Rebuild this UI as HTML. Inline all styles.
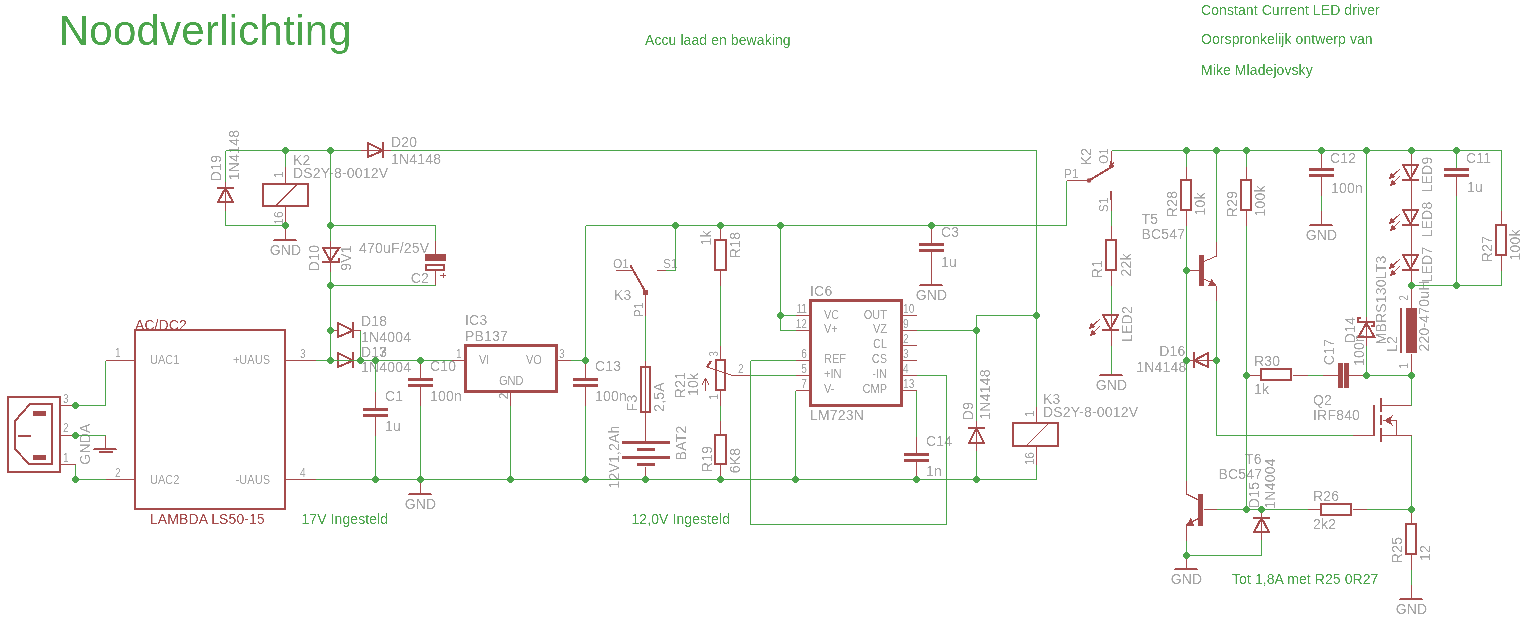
<!DOCTYPE html>
<html><head><meta charset="utf-8"><style>
html,body{margin:0;padding:0;background:#fff;width:1525px;height:621px;overflow:hidden}
svg{display:block}
text{font-family:"Liberation Sans",sans-serif}
path,line,rect{shape-rendering:crispEdges}
</style></head><body>
<svg width="1525" height="621" viewBox="0 0 1525 621">
<defs><filter id="al" x="0" y="0" width="1525" height="621" filterUnits="userSpaceOnUse"><feComponentTransfer><feFuncA type="table" tableValues="0 0 1 1"/></feComponentTransfer></filter></defs>
<g filter="url(#al)">
<text x="58.7" y="45" font-size="42" fill="#4ba54b" text-anchor="start" letter-spacing="0.25">Noodverlichting</text>
<text x="645" y="45" font-size="14" fill="#4ba54b" text-anchor="start" letter-spacing="0.08">Accu laad en bewaking</text>
<text x="1201" y="15" font-size="14" fill="#4ba54b" text-anchor="start" letter-spacing="0.08">Constant Current LED driver</text>
<text x="1201" y="44" font-size="14" fill="#4ba54b" text-anchor="start" letter-spacing="0.08">Oorspronkelijk ontwerp van</text>
<text x="1201" y="75" font-size="14" fill="#4ba54b" text-anchor="start" letter-spacing="0.08">Mike Mladejovsky</text>
<text x="301.5" y="524" font-size="14" fill="#4ba54b" text-anchor="start" letter-spacing="0.08">17V Ingesteld</text>
<text x="631.5" y="524" font-size="14" fill="#4ba54b" text-anchor="start" letter-spacing="0.08">12,0V Ingesteld</text>
<text x="1232" y="584" font-size="14" fill="#4ba54b" text-anchor="start" letter-spacing="0.08">Tot 1,8A met R25 0R27</text>
<text transform="translate(63 403) scale(0.85 1)" font-size="12" fill="#a5a5a5" text-anchor="start">3</text>
<text transform="translate(63 432) scale(0.85 1)" font-size="12" fill="#a5a5a5" text-anchor="start">2</text>
<text transform="translate(63 462) scale(0.85 1)" font-size="12" fill="#a5a5a5" text-anchor="start">1</text>
<text transform="translate(115 357) scale(0.85 1)" font-size="12" fill="#a5a5a5" text-anchor="start">1</text>
<text transform="translate(85 444) rotate(-90)" x="0" y="5.04" font-size="14" fill="#a5a5a5" text-anchor="middle" letter-spacing="0.2">GNDA</text>
<text transform="translate(115 477) scale(0.85 1)" font-size="12" fill="#a5a5a5" text-anchor="start">2</text>
<text x="135" y="330" font-size="14" fill="#a54b4b" text-anchor="start" letter-spacing="0.08">AC/DC2</text>
<text x="150" y="524" font-size="14" fill="#a54b4b" text-anchor="start" letter-spacing="0.08">LAMBDA LS50-15</text>
<text transform="translate(150 364) scale(0.92 1)" font-size="12" fill="#a5a5a5" text-anchor="start">UAC1</text>
<text transform="translate(150 484) scale(0.92 1)" font-size="12" fill="#a5a5a5" text-anchor="start">UAC2</text>
<text transform="translate(270 364) scale(0.92 1)" font-size="12" fill="#a5a5a5" text-anchor="end">+UAUS</text>
<text transform="translate(270 484) scale(0.92 1)" font-size="12" fill="#a5a5a5" text-anchor="end">-UAUS</text>
<text transform="translate(300 358) scale(0.85 1)" font-size="12" fill="#a5a5a5" text-anchor="start">3</text>
<text transform="translate(300 477) scale(0.85 1)" font-size="12" fill="#a5a5a5" text-anchor="start">4</text>
<text x="391" y="147" font-size="14" fill="#a5a5a5" text-anchor="start" letter-spacing="0.2">D20</text>
<text x="391" y="164" font-size="14" fill="#a5a5a5" text-anchor="start" letter-spacing="0.2">1N4148</text>
<text transform="translate(216 168) rotate(-90)" x="0" y="5.04" font-size="14" fill="#a5a5a5" text-anchor="middle" letter-spacing="0.2">D19</text>
<text transform="translate(234 155) rotate(-90)" x="0" y="5.04" font-size="14" fill="#a5a5a5" text-anchor="middle" letter-spacing="0.2">1N4148</text>
<text x="285.5" y="255" font-size="14" fill="#a5a5a5" text-anchor="middle" letter-spacing="0.2">GND</text>
<text x="293" y="165" font-size="14" fill="#a5a5a5" text-anchor="start" letter-spacing="0.2">K2</text>
<text x="293" y="178" font-size="14" fill="#a5a5a5" text-anchor="start" letter-spacing="0.2">DS2Y-8-0012V</text>
<text transform="translate(279 175) rotate(-90)" x="0" y="4.32" font-size="12" fill="#a5a5a5" text-anchor="middle">1</text>
<text transform="translate(279 218) rotate(-90)" x="0" y="4.32" font-size="12" fill="#a5a5a5" text-anchor="middle">16</text>
<text transform="translate(314 258) rotate(-90)" x="0" y="5.04" font-size="14" fill="#a5a5a5" text-anchor="middle" letter-spacing="0.2">D10</text>
<text transform="translate(346 258) rotate(-90)" x="0" y="5.04" font-size="14" fill="#a5a5a5" text-anchor="middle" letter-spacing="0.2">9V1</text>
<text x="359" y="253" font-size="14" fill="#a5a5a5" text-anchor="start" letter-spacing="0.2">470uF/25V</text>
<text x="429" y="283" font-size="14" fill="#a5a5a5" text-anchor="end" letter-spacing="0.2">C2</text>
<text x="361" y="326" font-size="14" fill="#a5a5a5" text-anchor="start" letter-spacing="0.2">D18</text>
<text x="361" y="342" font-size="14" fill="#a5a5a5" text-anchor="start" letter-spacing="0.2">1N4004</text>
<text x="361" y="357" font-size="14" fill="#a5a5a5" text-anchor="start" letter-spacing="0.2">D13</text>
<text x="378.9" y="357" font-size="14" fill="#a5a5a5" text-anchor="start" letter-spacing="0.2">7</text>
<text x="361" y="372" font-size="14" fill="#a5a5a5" text-anchor="start" letter-spacing="0.2">1N4004</text>
<text x="385" y="401" font-size="14" fill="#a5a5a5" text-anchor="start" letter-spacing="0.2">C1</text>
<text x="385" y="431" font-size="14" fill="#a5a5a5" text-anchor="start" letter-spacing="0.2">1u</text>
<text x="430" y="371" font-size="14" fill="#a5a5a5" text-anchor="start" letter-spacing="0.2">C10</text>
<text x="430" y="401" font-size="14" fill="#a5a5a5" text-anchor="start" letter-spacing="0.2">100n</text>
<text x="420.5" y="509" font-size="14" fill="#a5a5a5" text-anchor="middle" letter-spacing="0.2">GND</text>
<text transform="translate(456 358) scale(0.85 1)" font-size="12" fill="#a5a5a5" text-anchor="start">1</text>
<text x="465" y="325" font-size="14" fill="#a5a5a5" text-anchor="start" letter-spacing="0.2">IC3</text>
<text x="465" y="341" font-size="14" fill="#a5a5a5" text-anchor="start" letter-spacing="0.2">PB137</text>
<text transform="translate(479 364) scale(0.92 1)" font-size="12" fill="#a5a5a5" text-anchor="start">VI</text>
<text transform="translate(526 364) scale(0.92 1)" font-size="12" fill="#a5a5a5" text-anchor="start">VO</text>
<text transform="translate(499 385) scale(0.92 1)" font-size="12" fill="#a5a5a5" text-anchor="start">GND</text>
<text transform="translate(559 358) scale(0.85 1)" font-size="12" fill="#a5a5a5" text-anchor="start">3</text>
<text transform="translate(503.5 396) rotate(-90)" x="0" y="4.32" font-size="12" fill="#a5a5a5" text-anchor="middle">2</text>
<text x="595" y="371" font-size="14" fill="#a5a5a5" text-anchor="start" letter-spacing="0.2">C13</text>
<text x="595" y="401" font-size="14" fill="#a5a5a5" text-anchor="start" letter-spacing="0.2">100n</text>
<text x="613" y="268" font-size="12" fill="#a5a5a5" text-anchor="start">O1</text>
<text x="663" y="268" font-size="12" fill="#a5a5a5" text-anchor="start">S1</text>
<text x="614" y="300" font-size="14" fill="#a5a5a5" text-anchor="start" letter-spacing="0.2">K3</text>
<text transform="translate(638.5 310) rotate(-90)" x="0" y="4.32" font-size="12" fill="#a5a5a5" text-anchor="middle">P1</text>
<text transform="translate(632 403) rotate(-90)" x="0" y="5.04" font-size="14" fill="#a5a5a5" text-anchor="middle" letter-spacing="0.2">F3</text>
<text transform="translate(658.5 397) rotate(-90)" x="0" y="5.04" font-size="14" fill="#a5a5a5" text-anchor="middle" letter-spacing="0.2">2,5A</text>
<text transform="translate(614 457) rotate(-90)" x="0" y="5.04" font-size="14" fill="#a5a5a5" text-anchor="middle" letter-spacing="0.2">12V1,2Ah</text>
<text transform="translate(681 443) rotate(-90)" x="0" y="5.04" font-size="14" fill="#a5a5a5" text-anchor="middle" letter-spacing="0.2">BAT2</text>
<text transform="translate(706 238) rotate(-90)" x="0" y="5.04" font-size="14" fill="#a5a5a5" text-anchor="middle" letter-spacing="0.2">1k</text>
<text transform="translate(735 245) rotate(-90)" x="0" y="5.04" font-size="14" fill="#a5a5a5" text-anchor="middle" letter-spacing="0.2">R18</text>
<text transform="translate(713.5 354) rotate(-90) scale(0.85 1)" x="0" y="4.32" font-size="12" fill="#a5a5a5" text-anchor="middle">3</text>
<text transform="translate(713.5 397) rotate(-90) scale(0.85 1)" x="0" y="4.32" font-size="12" fill="#a5a5a5" text-anchor="middle">1</text>
<text transform="translate(680 385) rotate(-90)" x="0" y="5.04" font-size="14" fill="#a5a5a5" text-anchor="middle" letter-spacing="0.2">R21</text>
<text transform="translate(693 384.5) rotate(-90)" x="0" y="5.04" font-size="14" fill="#a5a5a5" text-anchor="middle" letter-spacing="0.2">10k</text>
<text transform="translate(707 459) rotate(-90)" x="0" y="5.04" font-size="14" fill="#a5a5a5" text-anchor="middle" letter-spacing="0.2">R19</text>
<text transform="translate(735 460.5) rotate(-90)" x="0" y="5.04" font-size="14" fill="#a5a5a5" text-anchor="middle" letter-spacing="0.2">6K8</text>
<text transform="translate(738 373) scale(0.85 1)" font-size="12" fill="#a5a5a5" text-anchor="start">2</text>
<text transform="translate(807 313) scale(0.85 1)" font-size="12" fill="#a5a5a5" text-anchor="end">11</text>
<text transform="translate(807 328) scale(0.85 1)" font-size="12" fill="#a5a5a5" text-anchor="end">12</text>
<text transform="translate(807 358) scale(0.85 1)" font-size="12" fill="#a5a5a5" text-anchor="end">6</text>
<text transform="translate(807 373) scale(0.85 1)" font-size="12" fill="#a5a5a5" text-anchor="end">5</text>
<text transform="translate(807 388) scale(0.85 1)" font-size="12" fill="#a5a5a5" text-anchor="end">7</text>
<text transform="translate(903 313) scale(0.85 1)" font-size="12" fill="#a5a5a5" text-anchor="start">10</text>
<text transform="translate(903 328) scale(0.85 1)" font-size="12" fill="#a5a5a5" text-anchor="start">9</text>
<text transform="translate(903 343) scale(0.85 1)" font-size="12" fill="#a5a5a5" text-anchor="start">2</text>
<text transform="translate(903 358) scale(0.85 1)" font-size="12" fill="#a5a5a5" text-anchor="start">3</text>
<text transform="translate(903 373) scale(0.85 1)" font-size="12" fill="#a5a5a5" text-anchor="start">4</text>
<text transform="translate(903 388) scale(0.85 1)" font-size="12" fill="#a5a5a5" text-anchor="start">13</text>
<text transform="translate(824 319) scale(0.92 1)" font-size="12" fill="#a5a5a5" text-anchor="start">VC</text>
<text transform="translate(824 333) scale(0.92 1)" font-size="12" fill="#a5a5a5" text-anchor="start">V+</text>
<text transform="translate(824 363) scale(0.92 1)" font-size="12" fill="#a5a5a5" text-anchor="start">REF</text>
<text transform="translate(824 378) scale(0.92 1)" font-size="12" fill="#a5a5a5" text-anchor="start">+IN</text>
<text transform="translate(824 393) scale(0.92 1)" font-size="12" fill="#a5a5a5" text-anchor="start">V-</text>
<text transform="translate(887 319) scale(0.92 1)" font-size="12" fill="#a5a5a5" text-anchor="end">OUT</text>
<text transform="translate(887 333) scale(0.92 1)" font-size="12" fill="#a5a5a5" text-anchor="end">VZ</text>
<text transform="translate(887 348) scale(0.92 1)" font-size="12" fill="#a5a5a5" text-anchor="end">CL</text>
<text transform="translate(887 363) scale(0.92 1)" font-size="12" fill="#a5a5a5" text-anchor="end">CS</text>
<text transform="translate(887 378) scale(0.92 1)" font-size="12" fill="#a5a5a5" text-anchor="end">-IN</text>
<text transform="translate(887 393) scale(0.92 1)" font-size="12" fill="#a5a5a5" text-anchor="end">CMP</text>
<text x="810" y="420" font-size="14" fill="#a5a5a5" text-anchor="start" letter-spacing="0.2">LM723N</text>
<text x="810" y="296" font-size="14" fill="#a5a5a5" text-anchor="start" letter-spacing="0.2">IC6</text>
<text x="926" y="446" font-size="14" fill="#a5a5a5" text-anchor="start" letter-spacing="0.2">C14</text>
<text x="926" y="476" font-size="14" fill="#a5a5a5" text-anchor="start" letter-spacing="0.2">1n</text>
<text x="931.5" y="300" font-size="14" fill="#a5a5a5" text-anchor="middle" letter-spacing="0.2">GND</text>
<text x="941" y="237" font-size="14" fill="#a5a5a5" text-anchor="start" letter-spacing="0.2">C3</text>
<text x="941" y="267" font-size="14" fill="#a5a5a5" text-anchor="start" letter-spacing="0.2">1u</text>
<text transform="translate(968 411) rotate(-90)" x="0" y="5.04" font-size="14" fill="#a5a5a5" text-anchor="middle" letter-spacing="0.2">D9</text>
<text transform="translate(984.5 394.5) rotate(-90)" x="0" y="5.04" font-size="14" fill="#a5a5a5" text-anchor="middle" letter-spacing="0.2">1N4148</text>
<text x="1043" y="404" font-size="14" fill="#a5a5a5" text-anchor="start" letter-spacing="0.2">K3</text>
<text x="1043" y="417" font-size="14" fill="#a5a5a5" text-anchor="start" letter-spacing="0.2">DS2Y-8-0012V</text>
<text transform="translate(1029.5 414) rotate(-90)" x="0" y="4.32" font-size="12" fill="#a5a5a5" text-anchor="middle">1</text>
<text transform="translate(1029.5 458.7) rotate(-90)" x="0" y="4.32" font-size="12" fill="#a5a5a5" text-anchor="middle">16</text>
<text x="1064" y="178" font-size="12" fill="#a5a5a5" text-anchor="start">P1</text>
<text transform="translate(1086 156.5) rotate(-90)" x="0" y="5.04" font-size="14" fill="#a5a5a5" text-anchor="middle" letter-spacing="0.2">K2</text>
<text transform="translate(1104 156) rotate(-90)" x="0" y="4.32" font-size="12" fill="#a5a5a5" text-anchor="middle">O1</text>
<text transform="translate(1104 205) rotate(-90)" x="0" y="4.32" font-size="12" fill="#a5a5a5" text-anchor="middle">S1</text>
<text transform="translate(1097 269) rotate(-90)" x="0" y="5.04" font-size="14" fill="#a5a5a5" text-anchor="middle" letter-spacing="0.2">R1</text>
<text transform="translate(1125.5 265) rotate(-90)" x="0" y="5.04" font-size="14" fill="#a5a5a5" text-anchor="middle" letter-spacing="0.2">22k</text>
<text x="1111.5" y="390" font-size="14" fill="#a5a5a5" text-anchor="middle" letter-spacing="0.2">GND</text>
<text transform="translate(1127 324) rotate(-90)" x="0" y="5.04" font-size="14" fill="#a5a5a5" text-anchor="middle" letter-spacing="0.2">LED2</text>
<text transform="translate(1172 204) rotate(-90)" x="0" y="5.04" font-size="14" fill="#a5a5a5" text-anchor="middle" letter-spacing="0.2">R28</text>
<text transform="translate(1200 204) rotate(-90)" x="0" y="5.04" font-size="14" fill="#a5a5a5" text-anchor="middle" letter-spacing="0.2">10k</text>
<text transform="translate(1232 204) rotate(-90)" x="0" y="5.04" font-size="14" fill="#a5a5a5" text-anchor="middle" letter-spacing="0.2">R29</text>
<text transform="translate(1260 201) rotate(-90)" x="0" y="5.04" font-size="14" fill="#a5a5a5" text-anchor="middle" letter-spacing="0.2">100k</text>
<text x="1141.5" y="224" font-size="14" fill="#a5a5a5" text-anchor="start" letter-spacing="0.2">T5</text>
<text x="1141.5" y="239" font-size="14" fill="#a5a5a5" text-anchor="start" letter-spacing="0.2">BC547</text>
<text x="1185.5" y="356" font-size="14" fill="#a5a5a5" text-anchor="end" letter-spacing="0.2">D16</text>
<text x="1186.5" y="372" font-size="14" fill="#a5a5a5" text-anchor="end" letter-spacing="0.2">1N4148</text>
<text x="1254" y="366" font-size="14" fill="#a5a5a5" text-anchor="start" letter-spacing="0.2">R30</text>
<text x="1254" y="394" font-size="14" fill="#a5a5a5" text-anchor="start" letter-spacing="0.2">1k</text>
<text transform="translate(1329 352) rotate(-90)" x="0" y="5.04" font-size="14" fill="#a5a5a5" text-anchor="middle" letter-spacing="0.2">C17</text>
<text transform="translate(1359 350) rotate(-90)" x="0" y="5.04" font-size="14" fill="#a5a5a5" text-anchor="middle" letter-spacing="0.2">100n</text>
<text transform="translate(1350 330) rotate(-90)" x="0" y="5.04" font-size="14" fill="#a5a5a5" text-anchor="middle" letter-spacing="0.2">D14</text>
<text transform="translate(1381 300) rotate(-90)" x="0" y="5.04" font-size="14" fill="#a5a5a5" text-anchor="middle" letter-spacing="0.2">MBRS130LT3</text>
<text transform="translate(1392 344) rotate(-90)" x="0" y="5.04" font-size="14" fill="#a5a5a5" text-anchor="middle" letter-spacing="0.2">L2</text>
<text transform="translate(1424 316) rotate(-90)" x="0" y="5.04" font-size="14" fill="#a5a5a5" text-anchor="middle" letter-spacing="0.2">220-470uH</text>
<text transform="translate(1404 298) rotate(-90) scale(0.85 1)" x="0" y="4.32" font-size="12" fill="#a5a5a5" text-anchor="middle">2</text>
<text transform="translate(1404 366) rotate(-90) scale(0.85 1)" x="0" y="4.32" font-size="12" fill="#a5a5a5" text-anchor="middle">1</text>
<text transform="translate(1427 174.5) rotate(-90)" x="0" y="5.04" font-size="14" fill="#a5a5a5" text-anchor="middle" letter-spacing="0.2">LED9</text>
<text transform="translate(1427 219.5) rotate(-90)" x="0" y="5.04" font-size="14" fill="#a5a5a5" text-anchor="middle" letter-spacing="0.2">LED8</text>
<text transform="translate(1427 264.5) rotate(-90)" x="0" y="5.04" font-size="14" fill="#a5a5a5" text-anchor="middle" letter-spacing="0.2">LED7</text>
<text transform="translate(1487 249) rotate(-90)" x="0" y="5.04" font-size="14" fill="#a5a5a5" text-anchor="middle" letter-spacing="0.2">R27</text>
<text transform="translate(1515 245) rotate(-90)" x="0" y="5.04" font-size="14" fill="#a5a5a5" text-anchor="middle" letter-spacing="0.2">100k</text>
<text x="1321.5" y="240" font-size="14" fill="#a5a5a5" text-anchor="middle" letter-spacing="0.2">GND</text>
<text x="1330" y="163" font-size="14" fill="#a5a5a5" text-anchor="start" letter-spacing="0.2">C12</text>
<text x="1331" y="193" font-size="14" fill="#a5a5a5" text-anchor="start" letter-spacing="0.2">100n</text>
<text x="1466" y="163" font-size="14" fill="#a5a5a5" text-anchor="start" letter-spacing="0.2">C11</text>
<text x="1467" y="192" font-size="14" fill="#a5a5a5" text-anchor="start" letter-spacing="0.2">1u</text>
<text x="1313" y="405" font-size="14" fill="#a5a5a5" text-anchor="start" letter-spacing="0.2">Q2</text>
<text x="1313" y="420" font-size="14" fill="#a5a5a5" text-anchor="start" letter-spacing="0.2">IRF840</text>
<text x="1186.5" y="584" font-size="14" fill="#a5a5a5" text-anchor="middle" letter-spacing="0.2">GND</text>
<text x="1245" y="464" font-size="14" fill="#a5a5a5" text-anchor="start" letter-spacing="0.2">T6</text>
<text x="1218.5" y="479" font-size="14" fill="#a5a5a5" text-anchor="start" letter-spacing="0.2">BC547</text>
<text transform="translate(1254 495) rotate(-90)" x="0" y="5.04" font-size="14" fill="#a5a5a5" text-anchor="middle" letter-spacing="0.2">D15</text>
<text transform="translate(1269.5 483.5) rotate(-90)" x="0" y="5.04" font-size="14" fill="#a5a5a5" text-anchor="middle" letter-spacing="0.2">1N4004</text>
<text x="1313" y="501" font-size="14" fill="#a5a5a5" text-anchor="start" letter-spacing="0.2">R26</text>
<text x="1313" y="529" font-size="14" fill="#a5a5a5" text-anchor="start" letter-spacing="0.2">2k2</text>
<text x="1411.5" y="614" font-size="14" fill="#a5a5a5" text-anchor="middle" letter-spacing="0.2">GND</text>
<text transform="translate(1397 550) rotate(-90)" x="0" y="5.04" font-size="14" fill="#a5a5a5" text-anchor="middle" letter-spacing="0.2">R25</text>
<text transform="translate(1425 553) rotate(-90)" x="0" y="5.04" font-size="14" fill="#a5a5a5" text-anchor="middle" letter-spacing="0.2">12</text>
</g>
<rect x="8.0" y="397.0" width="52" height="75" stroke="#a54b4b" stroke-width="2" fill="none"/>
<path d="M30.0 404.0 L52.0 404.0 L52.0 464.0 L29.0 464.0 L15.0 449.0 L15.0 421.0 L30.0 404.0" stroke="#a54b4b" stroke-width="2" fill="none" stroke-linecap="square"/>
<rect x="33" y="411" width="13" height="5" fill="#a54b4b"/>
<rect x="33" y="455" width="13" height="5" fill="#a54b4b"/>
<rect x="18" y="435" width="13" height="2" fill="#a54b4b"/>
<path d="M60.5 405.5 L75.5 405.5" stroke="#a54b4b" stroke-width="1" fill="none"/>
<path d="M60.5 435.5 L75.5 435.5" stroke="#a54b4b" stroke-width="1" fill="none"/>
<path d="M60.5 464.5 L75.5 464.5" stroke="#a54b4b" stroke-width="1" fill="none"/>
<path d="M75.5 405.5 L105.5 405.5 L105.5 360.5" stroke="#4ba54b" stroke-width="1" fill="none"/>
<path d="M105.5 360.5 L135.5 360.5" stroke="#a54b4b" stroke-width="1" fill="none"/>
<path d="M75.5 435.5 L105.5 435.5" stroke="#4ba54b" stroke-width="1" fill="none"/>
<path d="M105.5 435.5 L105.5 449.5" stroke="#a54b4b" stroke-width="1" fill="none"/>
<rect x="94" y="448" width="22" height="1" fill="#a54b4b"/>
<rect x="93" y="449" width="24" height="1" fill="#a54b4b"/>
<rect x="99" y="451" width="14" height="2" fill="#a54b4b"/>
<path d="M75.5 464.5 L75.5 479.5 L105.5 479.5" stroke="#4ba54b" stroke-width="1" fill="none"/>
<path d="M105.5 479.5 L135.5 479.5" stroke="#a54b4b" stroke-width="1" fill="none"/>
<rect x="135.0" y="330.0" width="150" height="179" stroke="#a54b4b" stroke-width="2" fill="none"/>
<path d="M285.5 360.5 L315.5 360.5" stroke="#a54b4b" stroke-width="1" fill="none"/>
<path d="M315.5 360.5 L330.5 360.5" stroke="#4ba54b" stroke-width="1" fill="none"/>
<path d="M285.5 479.5 L315.5 479.5" stroke="#a54b4b" stroke-width="1" fill="none"/>
<path d="M315.5 479.5 L1036.5 479.5 L1036.5 464.5" stroke="#4ba54b" stroke-width="1" fill="none"/>
<path d="M1036.5 464.5 L1036.5 446.5" stroke="#a54b4b" stroke-width="1" fill="none"/>
<path d="M225.5 150.5 L360.5 150.5" stroke="#4ba54b" stroke-width="1" fill="none"/>
<path d="M360.5 150.5 L390.5 150.5" stroke="#a54b4b" stroke-width="1" fill="none"/>
<path d="M368 143 L368 157 L383 150.5 Z" stroke="#a54b4b" stroke-width="2" fill="none"/>
<rect x="382" y="142" width="2" height="16" fill="#a54b4b"/>
<path d="M390.5 150.5 L1036.5 150.5 L1036.5 406.5" stroke="#4ba54b" stroke-width="1" fill="none"/>
<path d="M1036.5 406.5 L1036.5 423.5" stroke="#a54b4b" stroke-width="1" fill="none"/>
<path d="M225.5 150.5 L225.5 181.5" stroke="#4ba54b" stroke-width="1" fill="none"/>
<path d="M225.5 181.5 L225.5 210.5" stroke="#a54b4b" stroke-width="1" fill="none"/>
<path d="M225.5 188 L218 202 L233 202 Z" stroke="#a54b4b" stroke-width="2" fill="none"/>
<rect x="217" y="187" width="17" height="2" fill="#a54b4b"/>
<path d="M225.5 210.5 L225.5 225.5 L285.5 225.5" stroke="#4ba54b" stroke-width="1" fill="none"/>
<path d="M285.5 150.5 L285.5 166.5" stroke="#4ba54b" stroke-width="1" fill="none"/>
<path d="M285.5 166.5 L285.5 184.5" stroke="#a54b4b" stroke-width="1" fill="none"/>
<rect x="263.0" y="184.0" width="45" height="22" stroke="#a54b4b" stroke-width="2" fill="none"/>
<line x1="276" y1="205.5" x2="297" y2="184.5" stroke="#a54b4b" stroke-width="1"/>
<path d="M285.5 206.5 L285.5 240.5" stroke="#a54b4b" stroke-width="1" fill="none"/>
<rect x="274" y="239" width="22" height="1" fill="#a54b4b"/>
<rect x="273" y="240" width="24" height="1" fill="#a54b4b"/>
<path d="M330.5 150.5 L330.5 240.5" stroke="#4ba54b" stroke-width="1" fill="none"/>
<path d="M330.5 240.5 L330.5 271.5" stroke="#a54b4b" stroke-width="1" fill="none"/>
<path d="M323 248 L339 248 L330.5 261 Z" stroke="#a54b4b" stroke-width="2" fill="none"/>
<rect x="322" y="261" width="18" height="2" fill="#a54b4b"/>
<rect x="338" y="258" width="2" height="5" fill="#a54b4b"/>
<path d="M330.5 271.5 L330.5 360.5" stroke="#4ba54b" stroke-width="1" fill="none"/>
<path d="M330.5 225.5 L435.5 225.5 L435.5 240.5" stroke="#4ba54b" stroke-width="1" fill="none"/>
<path d="M435.5 240.5 L435.5 255.5" stroke="#a54b4b" stroke-width="1" fill="none"/>
<rect x="425" y="254" width="21" height="7" fill="#a54b4b"/>
<rect x="426.0" y="265.0" width="18" height="5" stroke="#a54b4b" stroke-width="2" fill="none"/>
<path d="M435.5 270.5 L435.5 285.5" stroke="#a54b4b" stroke-width="1" fill="none"/>
<path d="M435.5 285.5 L330.5 285.5" stroke="#4ba54b" stroke-width="1" fill="none"/>
<rect x="440" y="275" width="6" height="1" fill="#a54b4b"/>
<rect x="442.5" y="273" width="1.0" height="5" fill="#a54b4b"/>
<path d="M330.5 330.5 L338.5 330.5" stroke="#a54b4b" stroke-width="1" fill="none"/>
<path d="M338 323 L338 337 L353 330.5 Z" stroke="#a54b4b" stroke-width="2" fill="none"/>
<rect x="352" y="322" width="2" height="16" fill="#a54b4b"/>
<path d="M353.5 330.5 L360.5 330.5" stroke="#a54b4b" stroke-width="1" fill="none"/>
<path d="M360.5 330.5 L360.5 360.5" stroke="#4ba54b" stroke-width="1" fill="none"/>
<path d="M330.5 360.5 L338.5 360.5" stroke="#a54b4b" stroke-width="1" fill="none"/>
<path d="M338 353 L338 367 L353 360.5 Z" stroke="#a54b4b" stroke-width="2" fill="none"/>
<rect x="352" y="352" width="2" height="16" fill="#a54b4b"/>
<path d="M353.5 360.5 L360.5 360.5" stroke="#a54b4b" stroke-width="1" fill="none"/>
<path d="M331.5 360.5 L360.5 360.5" stroke="#4ba54b" stroke-width="1" fill="none"/>
<path d="M360.5 360.5 L451.5 360.5" stroke="#4ba54b" stroke-width="1" fill="none"/>
<path d="M451.5 360.5 L465.5 360.5" stroke="#a54b4b" stroke-width="1" fill="none"/>
<path d="M375.5 360.5 L375.5 391.5" stroke="#4ba54b" stroke-width="1" fill="none"/>
<path d="M375.5 391.5 L375.5 435.5" stroke="#a54b4b" stroke-width="1" fill="none"/>
<rect x="363" y="408" width="25" height="3" fill="#a54b4b"/>
<rect x="363" y="414" width="25" height="3" fill="#a54b4b"/>
<rect x="375" y="411" width="1" height="3" fill="#fff"/>
<path d="M375.5 435.5 L375.5 479.5" stroke="#4ba54b" stroke-width="1" fill="none"/>
<path d="M420.5 360.5 L420.5 405.5" stroke="#a54b4b" stroke-width="1" fill="none"/>
<rect x="408" y="378" width="25" height="3" fill="#a54b4b"/>
<rect x="408" y="384" width="25" height="3" fill="#a54b4b"/>
<rect x="420" y="381" width="1" height="3" fill="#fff"/>
<path d="M420.5 405.5 L420.5 479.5" stroke="#4ba54b" stroke-width="1" fill="none"/>
<path d="M420.5 479.5 L420.5 494.5" stroke="#a54b4b" stroke-width="1" fill="none"/>
<rect x="409" y="493" width="22" height="1" fill="#a54b4b"/>
<rect x="408" y="494" width="24" height="1" fill="#a54b4b"/>
<rect x="465.5" y="345.5" width="91" height="46" stroke="#a54b4b" stroke-width="3" fill="none"/>
<path d="M556.5 360.5 L570.5 360.5" stroke="#a54b4b" stroke-width="1" fill="none"/>
<path d="M570.5 360.5 L585.5 360.5" stroke="#4ba54b" stroke-width="1" fill="none"/>
<path d="M510.5 391.5 L510.5 405.5" stroke="#a54b4b" stroke-width="1" fill="none"/>
<path d="M510.5 405.5 L510.5 479.5" stroke="#4ba54b" stroke-width="1" fill="none"/>
<path d="M585.5 225.5 L585.5 360.5" stroke="#4ba54b" stroke-width="1" fill="none"/>
<path d="M585.5 360.5 L585.5 405.5" stroke="#a54b4b" stroke-width="1" fill="none"/>
<rect x="573" y="378" width="25" height="3" fill="#a54b4b"/>
<rect x="573" y="384" width="25" height="3" fill="#a54b4b"/>
<rect x="585" y="381" width="1" height="3" fill="#fff"/>
<path d="M585.5 405.5 L585.5 479.5" stroke="#4ba54b" stroke-width="1" fill="none"/>
<path d="M585.5 225.5 L1066.5 225.5 L1066.5 180.5" stroke="#4ba54b" stroke-width="1" fill="none"/>
<path d="M1066.5 180.5 L1089.5 180.5" stroke="#a54b4b" stroke-width="1" fill="none"/>
<path d="M675.5 225.5 L675.5 270.5 L665.5 270.5" stroke="#4ba54b" stroke-width="1" fill="none"/>
<path d="M665.5 270.5 L656.5 270.5" stroke="#a54b4b" stroke-width="1" fill="none"/>
<path d="M615.5 270.5 L633.5 270.5" stroke="#a54b4b" stroke-width="1" fill="none"/>
<line x1="630.5" y1="265.5" x2="645.5" y2="292" stroke="#a54b4b" stroke-width="2"/>
<rect x="643" y="290" width="5" height="5" fill="#a54b4b"/>
<path d="M645.5 292.5 L645.5 315.5" stroke="#a54b4b" stroke-width="1" fill="none"/>
<path d="M645.5 315.5 L645.5 360.5" stroke="#4ba54b" stroke-width="1" fill="none"/>
<path d="M645.5 360.5 L645.5 442.5" stroke="#a54b4b" stroke-width="1" fill="none"/>
<rect x="641.0" y="367.0" width="9" height="45" stroke="#a54b4b" stroke-width="2" fill="none"/>
<rect x="622" y="441" width="48" height="3" fill="#a54b4b"/>
<rect x="637" y="448" width="18" height="3" fill="#a54b4b"/>
<rect x="622" y="456" width="48" height="3" fill="#a54b4b"/>
<rect x="637" y="463" width="18" height="3" fill="#a54b4b"/>
<path d="M645.5 466.5 L645.5 479.5" stroke="#a54b4b" stroke-width="1" fill="none"/>
<path d="M720.5 225.5 L720.5 240.5" stroke="#a54b4b" stroke-width="1" fill="none"/>
<rect x="715.0" y="240.0" width="11" height="30" stroke="#a54b4b" stroke-width="2" fill="none"/>
<path d="M720.5 270.5 L720.5 285.5" stroke="#a54b4b" stroke-width="1" fill="none"/>
<path d="M720.5 285.5 L720.5 345.5" stroke="#4ba54b" stroke-width="1" fill="none"/>
<path d="M720.5 345.5 L720.5 360.5" stroke="#a54b4b" stroke-width="1" fill="none"/>
<rect x="716.0" y="360.0" width="9" height="30" stroke="#a54b4b" stroke-width="2" fill="none"/>
<path d="M720.5 390.5 L720.5 405.5" stroke="#a54b4b" stroke-width="1" fill="none"/>
<path d="M720.5 405.5 L720.5 420.5" stroke="#4ba54b" stroke-width="1" fill="none"/>
<path d="M720.5 420.5 L720.5 435.5" stroke="#a54b4b" stroke-width="1" fill="none"/>
<rect x="715.0" y="435.0" width="11" height="29" stroke="#a54b4b" stroke-width="2" fill="none"/>
<path d="M720.5 464.5 L720.5 479.5" stroke="#a54b4b" stroke-width="1" fill="none"/>
<line x1="707" y1="367" x2="731" y2="375" stroke="#a54b4b" stroke-width="1"/>
<line x1="707" y1="367" x2="711" y2="361" stroke="#a54b4b" stroke-width="2"/>
<path d="M730.5 375.5 L750.5 375.5" stroke="#a54b4b" stroke-width="1" fill="none"/>
<path d="M750.5 375.5 L795.5 375.5" stroke="#4ba54b" stroke-width="1" fill="none"/>
<line x1="705.5" y1="378" x2="705.5" y2="391" stroke="#a54b4b" stroke-width="1"/>
<line x1="705.5" y1="378" x2="702" y2="385" stroke="#a54b4b" stroke-width="1"/>
<line x1="705.5" y1="378" x2="709" y2="385" stroke="#a54b4b" stroke-width="1"/>
<rect x="810.5" y="300.5" width="91" height="105" stroke="#a54b4b" stroke-width="3" fill="none"/>
<path d="M780.5 225.5 L780.5 330.5 L795.5 330.5" stroke="#4ba54b" stroke-width="1" fill="none"/>
<path d="M780.5 315.5 L795.5 315.5" stroke="#4ba54b" stroke-width="1" fill="none"/>
<path d="M795.5 315.5 L810.5 315.5" stroke="#a54b4b" stroke-width="1" fill="none"/>
<path d="M795.5 330.5 L810.5 330.5" stroke="#a54b4b" stroke-width="1" fill="none"/>
<path d="M795.5 360.5 L810.5 360.5" stroke="#a54b4b" stroke-width="1" fill="none"/>
<path d="M795.5 375.5 L810.5 375.5" stroke="#a54b4b" stroke-width="1" fill="none"/>
<path d="M795.5 390.5 L810.5 390.5" stroke="#a54b4b" stroke-width="1" fill="none"/>
<path d="M901.5 315.5 L916.5 315.5" stroke="#a54b4b" stroke-width="1" fill="none"/>
<path d="M901.5 330.5 L916.5 330.5" stroke="#a54b4b" stroke-width="1" fill="none"/>
<path d="M901.5 345.5 L916.5 345.5" stroke="#a54b4b" stroke-width="1" fill="none"/>
<path d="M901.5 360.5 L916.5 360.5" stroke="#a54b4b" stroke-width="1" fill="none"/>
<path d="M901.5 375.5 L916.5 375.5" stroke="#a54b4b" stroke-width="1" fill="none"/>
<path d="M901.5 390.5 L916.5 390.5" stroke="#a54b4b" stroke-width="1" fill="none"/>
<path d="M750.5 360.5 L795.5 360.5" stroke="#4ba54b" stroke-width="1" fill="none"/>
<path d="M750.5 360.5 L750.5 524.5 L946.5 524.5 L946.5 375.5 L916.5 375.5" stroke="#4ba54b" stroke-width="1" fill="none"/>
<path d="M795.5 390.5 L795.5 479.5" stroke="#4ba54b" stroke-width="1" fill="none"/>
<path d="M916.5 330.5 L976.5 330.5" stroke="#4ba54b" stroke-width="1" fill="none"/>
<path d="M916.5 390.5 L916.5 436.5" stroke="#4ba54b" stroke-width="1" fill="none"/>
<path d="M916.5 436.5 L916.5 479.5" stroke="#a54b4b" stroke-width="1" fill="none"/>
<rect x="904" y="453" width="25" height="3" fill="#a54b4b"/>
<rect x="904" y="459" width="25" height="3" fill="#a54b4b"/>
<rect x="916" y="456" width="1" height="3" fill="#fff"/>
<path d="M931.5 225.5 L931.5 285.5" stroke="#a54b4b" stroke-width="1" fill="none"/>
<rect x="919" y="243" width="25" height="3" fill="#a54b4b"/>
<rect x="919" y="249" width="25" height="3" fill="#a54b4b"/>
<rect x="931" y="246" width="1" height="3" fill="#fff"/>
<rect x="920" y="284" width="22" height="1" fill="#a54b4b"/>
<rect x="919" y="285" width="24" height="1" fill="#a54b4b"/>
<path d="M976.5 330.5 L976.5 315.5 L1036.5 315.5" stroke="#4ba54b" stroke-width="1" fill="none"/>
<path d="M976.5 330.5 L976.5 420.5" stroke="#4ba54b" stroke-width="1" fill="none"/>
<path d="M976.5 420.5 L976.5 450.5" stroke="#a54b4b" stroke-width="1" fill="none"/>
<path d="M976.5 428 L969 443 L984 443 Z" stroke="#a54b4b" stroke-width="2" fill="none"/>
<rect x="968" y="427" width="17" height="2" fill="#a54b4b"/>
<path d="M976.5 450.5 L976.5 479.5" stroke="#4ba54b" stroke-width="1" fill="none"/>
<rect x="1013.0" y="423.0" width="45" height="23" stroke="#a54b4b" stroke-width="2" fill="none"/>
<line x1="1026" y1="446" x2="1048" y2="424" stroke="#a54b4b" stroke-width="1"/>
<line x1="1089" y1="180.5" x2="1114" y2="165.5" stroke="#a54b4b" stroke-width="2"/>
<circle cx="1089" cy="180.5" r="2.3" fill="#a54b4b"/>
<path d="M1111.5 150.5 L1111.5 167.5" stroke="#a54b4b" stroke-width="1" fill="none"/>
<rect x="1110" y="161" width="2" height="6" fill="#a54b4b"/>
<line x1="1109" y1="166" x2="1114" y2="163" stroke="#a54b4b" stroke-width="2"/>
<path d="M1111.5 150.5 L1501.5 150.5" stroke="#4ba54b" stroke-width="1" fill="none"/>
<path d="M1111.5 191.5 L1111.5 210.5" stroke="#a54b4b" stroke-width="1" fill="none"/>
<rect x="1110" y="191" width="2" height="9" fill="#a54b4b"/>
<path d="M1111.5 210.5 L1111.5 225.5" stroke="#4ba54b" stroke-width="1" fill="none"/>
<path d="M1111.5 225.5 L1111.5 240.5" stroke="#a54b4b" stroke-width="1" fill="none"/>
<rect x="1106.0" y="240.0" width="10" height="30" stroke="#a54b4b" stroke-width="2" fill="none"/>
<path d="M1111.5 270.5 L1111.5 285.5" stroke="#a54b4b" stroke-width="1" fill="none"/>
<path d="M1111.5 285.5 L1111.5 315.5" stroke="#4ba54b" stroke-width="1" fill="none"/>
<path d="M1111.5 315.5 L1111.5 345.5" stroke="#a54b4b" stroke-width="1" fill="none"/>
<path d="M1103.0 315.0 L1118.0 315.0 L1110.5 329.0 L1103.0 315.0" stroke="#a54b4b" stroke-width="2" fill="none" stroke-linecap="square"/>
<rect x="1102" y="329" width="17" height="2" fill="#a54b4b"/>
<line x1="1100" y1="319" x2="1091" y2="327" stroke="#a54b4b" stroke-width="1"/>
<path d="M1089 329 L1091 323 L1095 327 Z" fill="#a54b4b"/>
<line x1="1100" y1="326" x2="1092" y2="334" stroke="#a54b4b" stroke-width="1"/>
<path d="M1090 336 L1092 330 L1096 334 Z" fill="#a54b4b"/>
<path d="M1111.5 345.5 L1111.5 375.5" stroke="#4ba54b" stroke-width="1" fill="none"/>
<rect x="1100" y="374" width="22" height="1" fill="#a54b4b"/>
<rect x="1099" y="375" width="24" height="1" fill="#a54b4b"/>
<path d="M1186.5 150.5 L1186.5 166.5" stroke="#4ba54b" stroke-width="1" fill="none"/>
<path d="M1186.5 166.5 L1186.5 180.5" stroke="#a54b4b" stroke-width="1" fill="none"/>
<rect x="1181.0" y="180.0" width="10" height="30" stroke="#a54b4b" stroke-width="2" fill="none"/>
<path d="M1186.5 210.5 L1186.5 225.5" stroke="#a54b4b" stroke-width="1" fill="none"/>
<path d="M1186.5 225.5 L1186.5 480.5" stroke="#4ba54b" stroke-width="1" fill="none"/>
<path d="M1246.5 150.5 L1246.5 166.5" stroke="#4ba54b" stroke-width="1" fill="none"/>
<path d="M1246.5 166.5 L1246.5 180.5" stroke="#a54b4b" stroke-width="1" fill="none"/>
<rect x="1241.0" y="180.0" width="10" height="30" stroke="#a54b4b" stroke-width="2" fill="none"/>
<path d="M1246.5 210.5 L1246.5 225.5" stroke="#a54b4b" stroke-width="1" fill="none"/>
<path d="M1246.5 225.5 L1246.5 509.5" stroke="#4ba54b" stroke-width="1" fill="none"/>
<path d="M1186.5 270.5 L1199.5 270.5" stroke="#a54b4b" stroke-width="1" fill="none"/>
<rect x="1199" y="255" width="5" height="31" fill="#a54b4b"/>
<path d="M1216.5 150.5 L1216.5 241.5" stroke="#4ba54b" stroke-width="1" fill="none"/>
<path d="M1216.5 241.5 L1216.5 256.5" stroke="#a54b4b" stroke-width="1" fill="none"/>
<line x1="1204" y1="261.5" x2="1216.5" y2="256" stroke="#a54b4b" stroke-width="1"/>
<line x1="1204" y1="279" x2="1216.5" y2="285.5" stroke="#a54b4b" stroke-width="1"/>
<path d="M1208 286 L1211.5 279 L1216.5 286 Z" fill="#a54b4b"/>
<path d="M1216.5 285.5 L1216.5 300.5" stroke="#a54b4b" stroke-width="1" fill="none"/>
<path d="M1216.5 300.5 L1216.5 435.5 L1352.5 435.5" stroke="#4ba54b" stroke-width="1" fill="none"/>
<path d="M1352.5 435.5 L1374.5 435.5" stroke="#a54b4b" stroke-width="1" fill="none"/>
<path d="M1186.5 360.5 L1216.5 360.5" stroke="#a54b4b" stroke-width="1" fill="none"/>
<path d="M1208 353 L1208 367 L1194 360.5 Z" stroke="#a54b4b" stroke-width="2" fill="none"/>
<rect x="1193" y="352" width="2" height="16" fill="#a54b4b"/>
<path d="M1246.5 375.5 L1261.5 375.5" stroke="#a54b4b" stroke-width="1" fill="none"/>
<rect x="1261.0" y="369.0" width="30" height="11" stroke="#a54b4b" stroke-width="2" fill="none"/>
<path d="M1292.5 375.5 L1307.5 375.5" stroke="#a54b4b" stroke-width="1" fill="none"/>
<path d="M1307.5 375.5 L1322.5 375.5" stroke="#4ba54b" stroke-width="1" fill="none"/>
<path d="M1322.5 375.5 L1363.5 375.5" stroke="#a54b4b" stroke-width="1" fill="none"/>
<rect x="1338" y="363" width="5" height="25" fill="#a54b4b"/>
<rect x="1344" y="363" width="5" height="25" fill="#a54b4b"/>
<rect x="1343" y="375" width="1" height="1" fill="#fff"/>
<path d="M1363.5 375.5 L1411.5 375.5" stroke="#4ba54b" stroke-width="1" fill="none"/>
<path d="M1366.5 150.5 L1366.5 316.5" stroke="#4ba54b" stroke-width="1" fill="none"/>
<path d="M1366.5 316.5 L1366.5 345.5" stroke="#a54b4b" stroke-width="1" fill="none"/>
<path d="M1366.5 323 L1358.5 337 L1374.5 337 Z" stroke="#a54b4b" stroke-width="2" fill="none"/>
<rect x="1357" y="321" width="18" height="2" fill="#a54b4b"/>
<rect x="1357" y="317" width="2" height="6" fill="#a54b4b"/>
<rect x="1357" y="317" width="4" height="2" fill="#a54b4b"/>
<rect x="1373" y="321" width="2" height="6" fill="#a54b4b"/>
<rect x="1371" y="325" width="4" height="2" fill="#a54b4b"/>
<path d="M1366.5 345.5 L1366.5 375.5" stroke="#4ba54b" stroke-width="1" fill="none"/>
<path d="M1411.5 285.5 L1411.5 308.5" stroke="#a54b4b" stroke-width="1" fill="none"/>
<rect x="1406" y="308" width="11" height="45" fill="#a54b4b"/>
<rect x="1400" y="308" width="2" height="45" fill="#a54b4b"/>
<path d="M1411.5 353.5 L1411.5 375.5" stroke="#a54b4b" stroke-width="1" fill="none"/>
<path d="M1411.5 150.5 L1411.5 285.5" stroke="#a54b4b" stroke-width="1" fill="none"/>
<path d="M1403.0 165.0 L1418.0 165.0 L1410.5 179.0 L1403.0 165.0" stroke="#a54b4b" stroke-width="2" fill="none" stroke-linecap="square"/>
<rect x="1402" y="179" width="17" height="2" fill="#a54b4b"/>
<line x1="1400" y1="169" x2="1391" y2="177" stroke="#a54b4b" stroke-width="1"/>
<path d="M1389 179 L1391 173 L1395 177 Z" fill="#a54b4b"/>
<line x1="1400" y1="176" x2="1392" y2="184" stroke="#a54b4b" stroke-width="1"/>
<path d="M1390 186 L1392 180 L1396 184 Z" fill="#a54b4b"/>
<path d="M1403.0 210.0 L1418.0 210.0 L1410.5 224.0 L1403.0 210.0" stroke="#a54b4b" stroke-width="2" fill="none" stroke-linecap="square"/>
<rect x="1402" y="224" width="17" height="2" fill="#a54b4b"/>
<line x1="1400" y1="214" x2="1391" y2="222" stroke="#a54b4b" stroke-width="1"/>
<path d="M1389 224 L1391 218 L1395 222 Z" fill="#a54b4b"/>
<line x1="1400" y1="221" x2="1392" y2="229" stroke="#a54b4b" stroke-width="1"/>
<path d="M1390 231 L1392 225 L1396 229 Z" fill="#a54b4b"/>
<path d="M1403.0 255.0 L1418.0 255.0 L1410.5 269.0 L1403.0 255.0" stroke="#a54b4b" stroke-width="2" fill="none" stroke-linecap="square"/>
<rect x="1402" y="269" width="17" height="2" fill="#a54b4b"/>
<line x1="1400" y1="259" x2="1391" y2="267" stroke="#a54b4b" stroke-width="1"/>
<path d="M1389 269 L1391 263 L1395 267 Z" fill="#a54b4b"/>
<line x1="1400" y1="266" x2="1392" y2="274" stroke="#a54b4b" stroke-width="1"/>
<path d="M1390 276 L1392 270 L1396 274 Z" fill="#a54b4b"/>
<path d="M1411.5 285.5 L1501.5 285.5 L1501.5 270.5" stroke="#4ba54b" stroke-width="1" fill="none"/>
<path d="M1501.5 270.5 L1501.5 255.5" stroke="#a54b4b" stroke-width="1" fill="none"/>
<rect x="1496.0" y="225.0" width="10" height="30" stroke="#a54b4b" stroke-width="2" fill="none"/>
<path d="M1501.5 225.5 L1501.5 210.5" stroke="#a54b4b" stroke-width="1" fill="none"/>
<path d="M1501.5 210.5 L1501.5 150.5" stroke="#4ba54b" stroke-width="1" fill="none"/>
<path d="M1321.5 150.5 L1321.5 195.5" stroke="#a54b4b" stroke-width="1" fill="none"/>
<rect x="1309" y="168" width="25" height="3" fill="#a54b4b"/>
<rect x="1309" y="174" width="25" height="3" fill="#a54b4b"/>
<rect x="1321" y="171" width="1" height="3" fill="#fff"/>
<path d="M1321.5 195.5 L1321.5 210.5" stroke="#4ba54b" stroke-width="1" fill="none"/>
<path d="M1321.5 210.5 L1321.5 225.5" stroke="#a54b4b" stroke-width="1" fill="none"/>
<rect x="1310" y="224" width="22" height="1" fill="#a54b4b"/>
<rect x="1309" y="225" width="24" height="1" fill="#a54b4b"/>
<path d="M1456.5 150.5 L1456.5 167.5" stroke="#4ba54b" stroke-width="1" fill="none"/>
<path d="M1456.5 167.5 L1456.5 195.5" stroke="#a54b4b" stroke-width="1" fill="none"/>
<rect x="1444" y="168" width="25" height="3" fill="#a54b4b"/>
<rect x="1444" y="174" width="25" height="3" fill="#a54b4b"/>
<rect x="1456" y="171" width="1" height="3" fill="#fff"/>
<path d="M1456.5 195.5 L1456.5 285.5" stroke="#4ba54b" stroke-width="1" fill="none"/>
<rect x="1373" y="405" width="2" height="31" fill="#a54b4b"/>
<rect x="1380" y="398" width="2" height="14" fill="#a54b4b"/>
<rect x="1380" y="415" width="2" height="10" fill="#a54b4b"/>
<rect x="1380" y="428" width="2" height="14" fill="#a54b4b"/>
<path d="M1381.5 405.5 L1411.5 405.5" stroke="#a54b4b" stroke-width="1" fill="none"/>
<path d="M1411.5 405.5 L1411.5 375.5" stroke="#4ba54b" stroke-width="1" fill="none"/>
<path d="M1381.5 435.5 L1411.5 435.5" stroke="#a54b4b" stroke-width="1" fill="none"/>
<path d="M1411.5 435.5 L1411.5 509.5" stroke="#4ba54b" stroke-width="1" fill="none"/>
<path d="M1382.5 420.5 L1396.5 420.5 L1396.5 435.5" stroke="#a54b4b" stroke-width="1" fill="none"/>
<path d="M1384 420.5 L1393 415 L1390 420.5 L1393 426 Z" fill="#a54b4b"/>
<path d="M1186.5 480.5 L1186.5 494.5" stroke="#a54b4b" stroke-width="1" fill="none"/>
<line x1="1186.5" y1="494" x2="1198.5" y2="500" stroke="#a54b4b" stroke-width="1"/>
<rect x="1198" y="494" width="5" height="32" fill="#a54b4b"/>
<path d="M1203.5 509.5 L1216.5 509.5" stroke="#a54b4b" stroke-width="1" fill="none"/>
<path d="M1216.5 509.5 L1307.5 509.5" stroke="#4ba54b" stroke-width="1" fill="none"/>
<path d="M1307.5 509.5 L1321.5 509.5" stroke="#a54b4b" stroke-width="1" fill="none"/>
<rect x="1321.0" y="504.0" width="30" height="11" stroke="#a54b4b" stroke-width="2" fill="none"/>
<path d="M1352.5 509.5 L1366.5 509.5" stroke="#a54b4b" stroke-width="1" fill="none"/>
<path d="M1366.5 509.5 L1411.5 509.5" stroke="#4ba54b" stroke-width="1" fill="none"/>
<line x1="1198.5" y1="518.5" x2="1186.5" y2="524.5" stroke="#a54b4b" stroke-width="1"/>
<path d="M1186 525.5 L1191 517.5 L1194 525.5 Z" fill="#a54b4b"/>
<path d="M1186.5 524.5 L1186.5 540.5" stroke="#a54b4b" stroke-width="1" fill="none"/>
<path d="M1186.5 540.5 L1186.5 555.5" stroke="#4ba54b" stroke-width="1" fill="none"/>
<path d="M1186.5 555.5 L1186.5 569.5" stroke="#a54b4b" stroke-width="1" fill="none"/>
<rect x="1175" y="568" width="22" height="1" fill="#a54b4b"/>
<rect x="1174" y="569" width="24" height="1" fill="#a54b4b"/>
<path d="M1186.5 555.5 L1261.5 555.5 L1261.5 539.5" stroke="#4ba54b" stroke-width="1" fill="none"/>
<path d="M1261.5 539.5 L1261.5 509.5" stroke="#a54b4b" stroke-width="1" fill="none"/>
<path d="M1261.5 518 L1254 532 L1269 532 Z" stroke="#a54b4b" stroke-width="2" fill="none"/>
<rect x="1253" y="517" width="17" height="2" fill="#a54b4b"/>
<path d="M1411.5 509.5 L1411.5 524.5" stroke="#a54b4b" stroke-width="1" fill="none"/>
<rect x="1406.0" y="524.0" width="10" height="30" stroke="#a54b4b" stroke-width="2" fill="none"/>
<path d="M1411.5 554.5 L1411.5 569.5" stroke="#a54b4b" stroke-width="1" fill="none"/>
<path d="M1411.5 569.5 L1411.5 584.5" stroke="#4ba54b" stroke-width="1" fill="none"/>
<path d="M1411.5 584.5 L1411.5 599.5" stroke="#a54b4b" stroke-width="1" fill="none"/>
<rect x="1400" y="598" width="22" height="1" fill="#a54b4b"/>
<rect x="1399" y="599" width="24" height="1" fill="#a54b4b"/>
<path d="M74 402 L77 402 L77 403 L78 403 L78 404 L79 404 L79 407 L78 407 L78 408 L77 408 L77 409 L74 409 L74 408 L73 408 L73 407 L72 407 L72 404 L73 404 L73 403 L74 403 Z" fill="#4ba54b"/>
<path d="M74 432 L77 432 L77 433 L78 433 L78 434 L79 434 L79 437 L78 437 L78 438 L77 438 L77 439 L74 439 L74 438 L73 438 L73 437 L72 437 L72 434 L73 434 L73 433 L74 433 Z" fill="#4ba54b"/>
<path d="M74 476 L77 476 L77 477 L78 477 L78 478 L79 478 L79 481 L78 481 L78 482 L77 482 L77 483 L74 483 L74 482 L73 482 L73 481 L72 481 L72 478 L73 478 L73 477 L74 477 Z" fill="#4ba54b"/>
<path d="M374 476 L377 476 L377 477 L378 477 L378 478 L379 478 L379 481 L378 481 L378 482 L377 482 L377 483 L374 483 L374 482 L373 482 L373 481 L372 481 L372 478 L373 478 L373 477 L374 477 Z" fill="#4ba54b"/>
<path d="M419 476 L422 476 L422 477 L423 477 L423 478 L424 478 L424 481 L423 481 L423 482 L422 482 L422 483 L419 483 L419 482 L418 482 L418 481 L417 481 L417 478 L418 478 L418 477 L419 477 Z" fill="#4ba54b"/>
<path d="M509 476 L512 476 L512 477 L513 477 L513 478 L514 478 L514 481 L513 481 L513 482 L512 482 L512 483 L509 483 L509 482 L508 482 L508 481 L507 481 L507 478 L508 478 L508 477 L509 477 Z" fill="#4ba54b"/>
<path d="M584 476 L587 476 L587 477 L588 477 L588 478 L589 478 L589 481 L588 481 L588 482 L587 482 L587 483 L584 483 L584 482 L583 482 L583 481 L582 481 L582 478 L583 478 L583 477 L584 477 Z" fill="#4ba54b"/>
<path d="M644 476 L647 476 L647 477 L648 477 L648 478 L649 478 L649 481 L648 481 L648 482 L647 482 L647 483 L644 483 L644 482 L643 482 L643 481 L642 481 L642 478 L643 478 L643 477 L644 477 Z" fill="#4ba54b"/>
<path d="M719 476 L722 476 L722 477 L723 477 L723 478 L724 478 L724 481 L723 481 L723 482 L722 482 L722 483 L719 483 L719 482 L718 482 L718 481 L717 481 L717 478 L718 478 L718 477 L719 477 Z" fill="#4ba54b"/>
<path d="M794 476 L797 476 L797 477 L798 477 L798 478 L799 478 L799 481 L798 481 L798 482 L797 482 L797 483 L794 483 L794 482 L793 482 L793 481 L792 481 L792 478 L793 478 L793 477 L794 477 Z" fill="#4ba54b"/>
<path d="M915 476 L918 476 L918 477 L919 477 L919 478 L920 478 L920 481 L919 481 L919 482 L918 482 L918 483 L915 483 L915 482 L914 482 L914 481 L913 481 L913 478 L914 478 L914 477 L915 477 Z" fill="#4ba54b"/>
<path d="M975 476 L978 476 L978 477 L979 477 L979 478 L980 478 L980 481 L979 481 L979 482 L978 482 L978 483 L975 483 L975 482 L974 482 L974 481 L973 481 L973 478 L974 478 L974 477 L975 477 Z" fill="#4ba54b"/>
<path d="M284 147 L287 147 L287 148 L288 148 L288 149 L289 149 L289 152 L288 152 L288 153 L287 153 L287 154 L284 154 L284 153 L283 153 L283 152 L282 152 L282 149 L283 149 L283 148 L284 148 Z" fill="#4ba54b"/>
<path d="M329 147 L332 147 L332 148 L333 148 L333 149 L334 149 L334 152 L333 152 L333 153 L332 153 L332 154 L329 154 L329 153 L328 153 L328 152 L327 152 L327 149 L328 149 L328 148 L329 148 Z" fill="#4ba54b"/>
<path d="M284 222 L287 222 L287 223 L288 223 L288 224 L289 224 L289 227 L288 227 L288 228 L287 228 L287 229 L284 229 L284 228 L283 228 L283 227 L282 227 L282 224 L283 224 L283 223 L284 223 Z" fill="#4ba54b"/>
<path d="M329 222 L332 222 L332 223 L333 223 L333 224 L334 224 L334 227 L333 227 L333 228 L332 228 L332 229 L329 229 L329 228 L328 228 L328 227 L327 227 L327 224 L328 224 L328 223 L329 223 Z" fill="#4ba54b"/>
<path d="M329 282 L332 282 L332 283 L333 283 L333 284 L334 284 L334 287 L333 287 L333 288 L332 288 L332 289 L329 289 L329 288 L328 288 L328 287 L327 287 L327 284 L328 284 L328 283 L329 283 Z" fill="#4ba54b"/>
<path d="M329 327 L332 327 L332 328 L333 328 L333 329 L334 329 L334 332 L333 332 L333 333 L332 333 L332 334 L329 334 L329 333 L328 333 L328 332 L327 332 L327 329 L328 329 L328 328 L329 328 Z" fill="#4ba54b"/>
<path d="M329 357 L332 357 L332 358 L333 358 L333 359 L334 359 L334 362 L333 362 L333 363 L332 363 L332 364 L329 364 L329 363 L328 363 L328 362 L327 362 L327 359 L328 359 L328 358 L329 358 Z" fill="#4ba54b"/>
<path d="M359 357 L362 357 L362 358 L363 358 L363 359 L364 359 L364 362 L363 362 L363 363 L362 363 L362 364 L359 364 L359 363 L358 363 L358 362 L357 362 L357 359 L358 359 L358 358 L359 358 Z" fill="#4ba54b"/>
<path d="M374 357 L377 357 L377 358 L378 358 L378 359 L379 359 L379 362 L378 362 L378 363 L377 363 L377 364 L374 364 L374 363 L373 363 L373 362 L372 362 L372 359 L373 359 L373 358 L374 358 Z" fill="#4ba54b"/>
<path d="M419 357 L422 357 L422 358 L423 358 L423 359 L424 359 L424 362 L423 362 L423 363 L422 363 L422 364 L419 364 L419 363 L418 363 L418 362 L417 362 L417 359 L418 359 L418 358 L419 358 Z" fill="#4ba54b"/>
<path d="M584 357 L587 357 L587 358 L588 358 L588 359 L589 359 L589 362 L588 362 L588 363 L587 363 L587 364 L584 364 L584 363 L583 363 L583 362 L582 362 L582 359 L583 359 L583 358 L584 358 Z" fill="#4ba54b"/>
<path d="M674 222 L677 222 L677 223 L678 223 L678 224 L679 224 L679 227 L678 227 L678 228 L677 228 L677 229 L674 229 L674 228 L673 228 L673 227 L672 227 L672 224 L673 224 L673 223 L674 223 Z" fill="#4ba54b"/>
<path d="M719 222 L722 222 L722 223 L723 223 L723 224 L724 224 L724 227 L723 227 L723 228 L722 228 L722 229 L719 229 L719 228 L718 228 L718 227 L717 227 L717 224 L718 224 L718 223 L719 223 Z" fill="#4ba54b"/>
<path d="M779 222 L782 222 L782 223 L783 223 L783 224 L784 224 L784 227 L783 227 L783 228 L782 228 L782 229 L779 229 L779 228 L778 228 L778 227 L777 227 L777 224 L778 224 L778 223 L779 223 Z" fill="#4ba54b"/>
<path d="M930 222 L933 222 L933 223 L934 223 L934 224 L935 224 L935 227 L934 227 L934 228 L933 228 L933 229 L930 229 L930 228 L929 228 L929 227 L928 227 L928 224 L929 224 L929 223 L930 223 Z" fill="#4ba54b"/>
<path d="M719 476 L722 476 L722 477 L723 477 L723 478 L724 478 L724 481 L723 481 L723 482 L722 482 L722 483 L719 483 L719 482 L718 482 L718 481 L717 481 L717 478 L718 478 L718 477 L719 477 Z" fill="#4ba54b"/>
<path d="M779 312 L782 312 L782 313 L783 313 L783 314 L784 314 L784 317 L783 317 L783 318 L782 318 L782 319 L779 319 L779 318 L778 318 L778 317 L777 317 L777 314 L778 314 L778 313 L779 313 Z" fill="#4ba54b"/>
<path d="M975 327 L978 327 L978 328 L979 328 L979 329 L980 329 L980 332 L979 332 L979 333 L978 333 L978 334 L975 334 L975 333 L974 333 L974 332 L973 332 L973 329 L974 329 L974 328 L975 328 Z" fill="#4ba54b"/>
<path d="M1035 312 L1038 312 L1038 313 L1039 313 L1039 314 L1040 314 L1040 317 L1039 317 L1039 318 L1038 318 L1038 319 L1035 319 L1035 318 L1034 318 L1034 317 L1033 317 L1033 314 L1034 314 L1034 313 L1035 313 Z" fill="#4ba54b"/>
<path d="M1185 147 L1188 147 L1188 148 L1189 148 L1189 149 L1190 149 L1190 152 L1189 152 L1189 153 L1188 153 L1188 154 L1185 154 L1185 153 L1184 153 L1184 152 L1183 152 L1183 149 L1184 149 L1184 148 L1185 148 Z" fill="#4ba54b"/>
<path d="M1215 147 L1218 147 L1218 148 L1219 148 L1219 149 L1220 149 L1220 152 L1219 152 L1219 153 L1218 153 L1218 154 L1215 154 L1215 153 L1214 153 L1214 152 L1213 152 L1213 149 L1214 149 L1214 148 L1215 148 Z" fill="#4ba54b"/>
<path d="M1245 147 L1248 147 L1248 148 L1249 148 L1249 149 L1250 149 L1250 152 L1249 152 L1249 153 L1248 153 L1248 154 L1245 154 L1245 153 L1244 153 L1244 152 L1243 152 L1243 149 L1244 149 L1244 148 L1245 148 Z" fill="#4ba54b"/>
<path d="M1185 267 L1188 267 L1188 268 L1189 268 L1189 269 L1190 269 L1190 272 L1189 272 L1189 273 L1188 273 L1188 274 L1185 274 L1185 273 L1184 273 L1184 272 L1183 272 L1183 269 L1184 269 L1184 268 L1185 268 Z" fill="#4ba54b"/>
<path d="M1185 357 L1188 357 L1188 358 L1189 358 L1189 359 L1190 359 L1190 362 L1189 362 L1189 363 L1188 363 L1188 364 L1185 364 L1185 363 L1184 363 L1184 362 L1183 362 L1183 359 L1184 359 L1184 358 L1185 358 Z" fill="#4ba54b"/>
<path d="M1245 372 L1248 372 L1248 373 L1249 373 L1249 374 L1250 374 L1250 377 L1249 377 L1249 378 L1248 378 L1248 379 L1245 379 L1245 378 L1244 378 L1244 377 L1243 377 L1243 374 L1244 374 L1244 373 L1245 373 Z" fill="#4ba54b"/>
<path d="M1245 506 L1248 506 L1248 507 L1249 507 L1249 508 L1250 508 L1250 511 L1249 511 L1249 512 L1248 512 L1248 513 L1245 513 L1245 512 L1244 512 L1244 511 L1243 511 L1243 508 L1244 508 L1244 507 L1245 507 Z" fill="#4ba54b"/>
<path d="M1215 357 L1218 357 L1218 358 L1219 358 L1219 359 L1220 359 L1220 362 L1219 362 L1219 363 L1218 363 L1218 364 L1215 364 L1215 363 L1214 363 L1214 362 L1213 362 L1213 359 L1214 359 L1214 358 L1215 358 Z" fill="#4ba54b"/>
<path d="M1365 372 L1368 372 L1368 373 L1369 373 L1369 374 L1370 374 L1370 377 L1369 377 L1369 378 L1368 378 L1368 379 L1365 379 L1365 378 L1364 378 L1364 377 L1363 377 L1363 374 L1364 374 L1364 373 L1365 373 Z" fill="#4ba54b"/>
<path d="M1410 372 L1413 372 L1413 373 L1414 373 L1414 374 L1415 374 L1415 377 L1414 377 L1414 378 L1413 378 L1413 379 L1410 379 L1410 378 L1409 378 L1409 377 L1408 377 L1408 374 L1409 374 L1409 373 L1410 373 Z" fill="#4ba54b"/>
<path d="M1365 147 L1368 147 L1368 148 L1369 148 L1369 149 L1370 149 L1370 152 L1369 152 L1369 153 L1368 153 L1368 154 L1365 154 L1365 153 L1364 153 L1364 152 L1363 152 L1363 149 L1364 149 L1364 148 L1365 148 Z" fill="#4ba54b"/>
<path d="M1410 147 L1413 147 L1413 148 L1414 148 L1414 149 L1415 149 L1415 152 L1414 152 L1414 153 L1413 153 L1413 154 L1410 154 L1410 153 L1409 153 L1409 152 L1408 152 L1408 149 L1409 149 L1409 148 L1410 148 Z" fill="#4ba54b"/>
<path d="M1410 282 L1413 282 L1413 283 L1414 283 L1414 284 L1415 284 L1415 287 L1414 287 L1414 288 L1413 288 L1413 289 L1410 289 L1410 288 L1409 288 L1409 287 L1408 287 L1408 284 L1409 284 L1409 283 L1410 283 Z" fill="#4ba54b"/>
<path d="M1455 282 L1458 282 L1458 283 L1459 283 L1459 284 L1460 284 L1460 287 L1459 287 L1459 288 L1458 288 L1458 289 L1455 289 L1455 288 L1454 288 L1454 287 L1453 287 L1453 284 L1454 284 L1454 283 L1455 283 Z" fill="#4ba54b"/>
<path d="M1320 147 L1323 147 L1323 148 L1324 148 L1324 149 L1325 149 L1325 152 L1324 152 L1324 153 L1323 153 L1323 154 L1320 154 L1320 153 L1319 153 L1319 152 L1318 152 L1318 149 L1319 149 L1319 148 L1320 148 Z" fill="#4ba54b"/>
<path d="M1455 147 L1458 147 L1458 148 L1459 148 L1459 149 L1460 149 L1460 152 L1459 152 L1459 153 L1458 153 L1458 154 L1455 154 L1455 153 L1454 153 L1454 152 L1453 152 L1453 149 L1454 149 L1454 148 L1455 148 Z" fill="#4ba54b"/>
<path d="M1260 506 L1263 506 L1263 507 L1264 507 L1264 508 L1265 508 L1265 511 L1264 511 L1264 512 L1263 512 L1263 513 L1260 513 L1260 512 L1259 512 L1259 511 L1258 511 L1258 508 L1259 508 L1259 507 L1260 507 Z" fill="#4ba54b"/>
<path d="M1410 506 L1413 506 L1413 507 L1414 507 L1414 508 L1415 508 L1415 511 L1414 511 L1414 512 L1413 512 L1413 513 L1410 513 L1410 512 L1409 512 L1409 511 L1408 511 L1408 508 L1409 508 L1409 507 L1410 507 Z" fill="#4ba54b"/>
<path d="M1185 552 L1188 552 L1188 553 L1189 553 L1189 554 L1190 554 L1190 557 L1189 557 L1189 558 L1188 558 L1188 559 L1185 559 L1185 558 L1184 558 L1184 557 L1183 557 L1183 554 L1184 554 L1184 553 L1185 553 Z" fill="#4ba54b"/>
</svg>
</body></html>
